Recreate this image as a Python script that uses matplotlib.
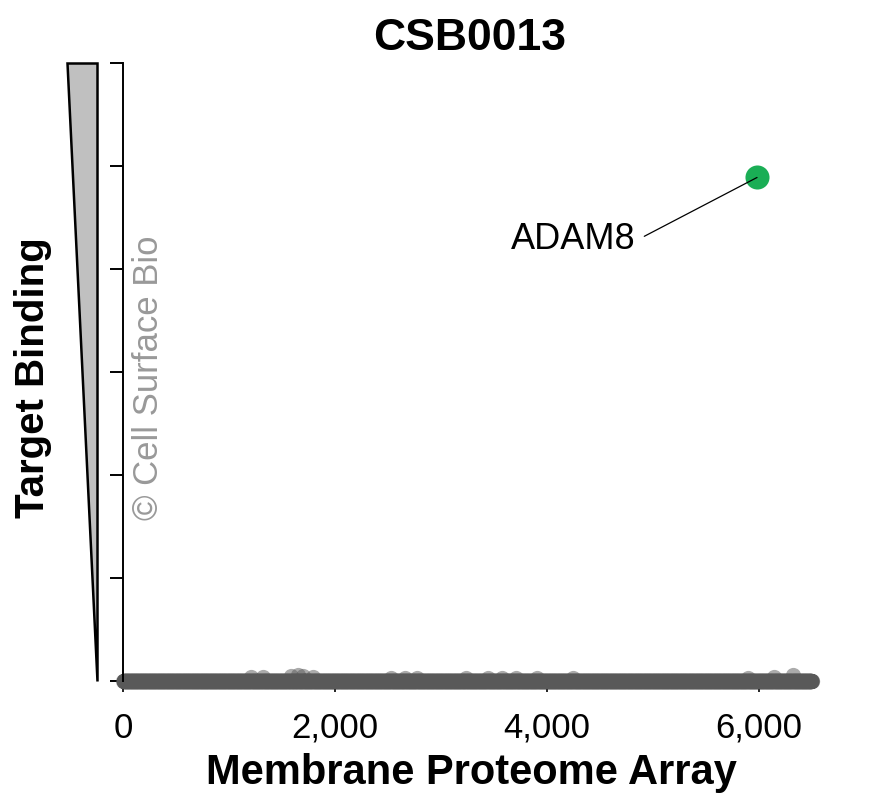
import numpy as np
import matplotlib.pyplot as plt
from matplotlib.patches import Polygon

plt.rcParams['font.family'] = ['Liberation Sans', 'DejaVu Sans']

# proteins on the array, in array order; almost all show no binding
n_proteins = 6500
protein_index = np.arange(1, n_proteins + 1)
binding = np.zeros(n_proteins)

# weak off-target signals sitting just above the baseline
weak_x = [1206, 1318, 1586, 1653, 1700, 1787, 2524, 2658, 2770, 3239,
          3440, 3574, 3708, 3909, 4244, 5897, 6143, 6321]
weak_y = [0.04, 0.04, 0.05, 0.06, 0.05, 0.04, 0.03, 0.03, 0.03, 0.03,
          0.03, 0.03, 0.03, 0.03, 0.03, 0.03, 0.04, 0.06]
binding[np.array(weak_x) - 1] = weak_y

# the hit
hit_name = "ADAM8"
hit_x = 5984
hit_y = 4.89

xticks = [0, 2000, 4000, 6000]
xtick_labels = ["0", "2,000", "4,000", "6,000"]
yticks = [0, 1, 2, 3, 4, 5, 6]

fig = plt.figure(figsize=(8.77, 8.06), dpi=100)
ax = fig.add_axes([123.3 / 877, 118 / 806, (830 - 123.3) / 877, (688 - 40) / 806])

# all proteins, hit removed from grey set
mask = protein_index != hit_x
ax.scatter(protein_index[mask], binding[mask], s=120, color='#595959', alpha=0.5,
           linewidths=0, clip_on=False, zorder=2)
ax.scatter([hit_x], [hit_y], s=300, color='#1aae55', linewidths=0, clip_on=False, zorder=4)
ax.annotate(hit_name, xy=(hit_x, hit_y), xytext=(4835, 4.29), fontsize=26,
            ha='right', va='center',
            arrowprops=dict(arrowstyle='-', color='black', lw=0.9, shrinkA=5, shrinkB=0,
                            relpos=(1.0, 0.45)),
            zorder=5)

ax.set_xlim(0, 6673)
ax.set_ylim(-0.0709, 6.226)

for side in ['top', 'right', 'bottom']:
    ax.spines[side].set_visible(False)
ax.spines['left'].set_bounds(0, 6)
ax.spines['left'].set_linewidth(1.4)

ax.set_yticks(yticks)
ax.set_yticklabels([])
ax.tick_params(axis='y', direction='out', length=9.5, width=1.4)
ax.set_xticks(xticks)
ax.set_xticklabels(xtick_labels, fontsize=25)
ax.tick_params(axis='x', direction='out', length=3, width=1.2, pad=14)

# wedge next to the y axis
wedge = Polygon([(-532, 6), (-248, 6), (-248, 0)], closed=True, facecolor='#c0c0c0',
                edgecolor='black', lw=1.8, clip_on=False, joinstyle='miter')
ax.add_patch(wedge)

fig.text(470 / 877, 1 - 39 / 806, "CSB0013", fontsize=32, fontweight='bold',
         ha='center', va='center')
fig.text(471 / 877, 1 - 773 / 806, "Membrane Proteome Array", fontsize=30,
         fontweight='bold', ha='center', va='center')
fig.text(33 / 877, 1 - 378 / 806, "Target Binding", fontsize=29, fontweight='bold',
         rotation=90, ha='center', va='center')
fig.text(148 / 877, 1 - 378 / 806, "\u00a9 Cell Surface Bio", fontsize=25,
         color='#999999', rotation=90, ha='center', va='center')

fig.savefig("out.png", dpi=100)
